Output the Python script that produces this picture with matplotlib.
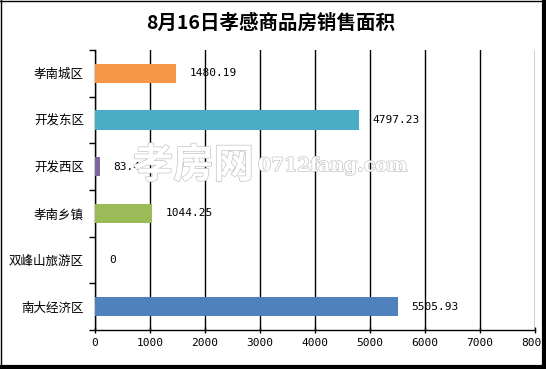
import numpy as np
import matplotlib
matplotlib.use('Agg')
from matplotlib import pyplot as plt
from matplotlib.lines import Line2D
import matplotlib.patheffects as pe

plt.rcParams['font.family'] = ['Noto Sans CJK SC', 'DejaVu Sans']

categories = ['孝南城区', '开发东区', '开发西区', '孝南乡镇', '双峰山旅游区', '南大经济区']
values = [1480.19, 4797.23, 83.4, 1044.25, 0, 5505.93]
value_labels = ['1480.19', '4797.23', '83.4', '1044.25', '0', '5505.93']
colors = ['#F79646', '#4BACC6', '#8064A2', '#9BBB59', '#4F81BD', '#4F81BD']
xticks = [0, 1000, 2000, 3000, 4000, 5000, 6000, 7000, 8000]

fig = plt.figure(figsize=(5.46, 3.69), dpi=100)
ax = fig.add_axes([95/546, 1 - 330/369, 440/546, 280/369])

y = np.arange(len(categories))
ax.barh(y, values, height=0.42, color=colors, zorder=3)
ax.set_ylim(len(categories) - 0.5, -0.5)
ax.set_xlim(0, 8000)

for yi, v, lab in zip(y, values, value_labels):
    ax.text(v + 250, yi, lab, va='center', ha='left', fontsize=8,
            family='DejaVu Sans Mono', zorder=4)

ax.set_xticks(xticks)
ax.set_xticklabels([str(t) for t in xticks], family='DejaVu Sans Mono', fontsize=8)
ax.set_yticks(y)
ax.set_yticklabels(categories, fontsize=9)
ax.set_yticks(np.arange(len(categories) + 1) - 0.5, minor=True)
ax.tick_params(axis='y', which='major', length=0, pad=8)
ax.tick_params(axis='y', which='minor', length=4, width=1, direction='out')
ax.tick_params(axis='x', length=5, width=1, direction='inout', pad=3)
ax.grid(axis='x', color='black', linewidth=1, zorder=1)
for s in ['top', 'right']:
    ax.spines[s].set_visible(False)
ax.spines['left'].set_linewidth(1)
ax.spines['bottom'].set_linewidth(1)

fig.text(0.495, 1 - 23/369, '8月16日孝感商品房销售面积', ha='center', va='center',
         fontsize=14, fontweight='bold')

# watermark
wm = [pe.withStroke(linewidth=1.0, foreground='#c4c4c4')]
fig.text(133/546, 1 - 166/369, '孝房网', ha='left', va='center', fontsize=29,
         color='white', fontweight='bold', path_effects=wm, zorder=5)
fig.text(258/546, 1 - 166/369, '0712fang.com', ha='left', va='center', fontsize=13.5,
         color='white', family='DejaVu Serif', fontweight='bold', path_effects=wm, zorder=5)

# frame
fig.add_artist(Line2D([0.5/546, 0.5/546], [0, 1], color='black', lw=1, transform=fig.transFigure))
fig.add_artist(Line2D([0, 1], [1 - 0.5/369, 1 - 0.5/369], color='black', lw=1, transform=fig.transFigure))
fig.add_artist(Line2D([1 - 2/546, 1 - 2/546], [0, 1], color='black', lw=3, transform=fig.transFigure))
fig.add_artist(Line2D([0, 1], [2/369, 2/369], color='black', lw=3, transform=fig.transFigure))

fig.savefig('out.png', dpi=100)
